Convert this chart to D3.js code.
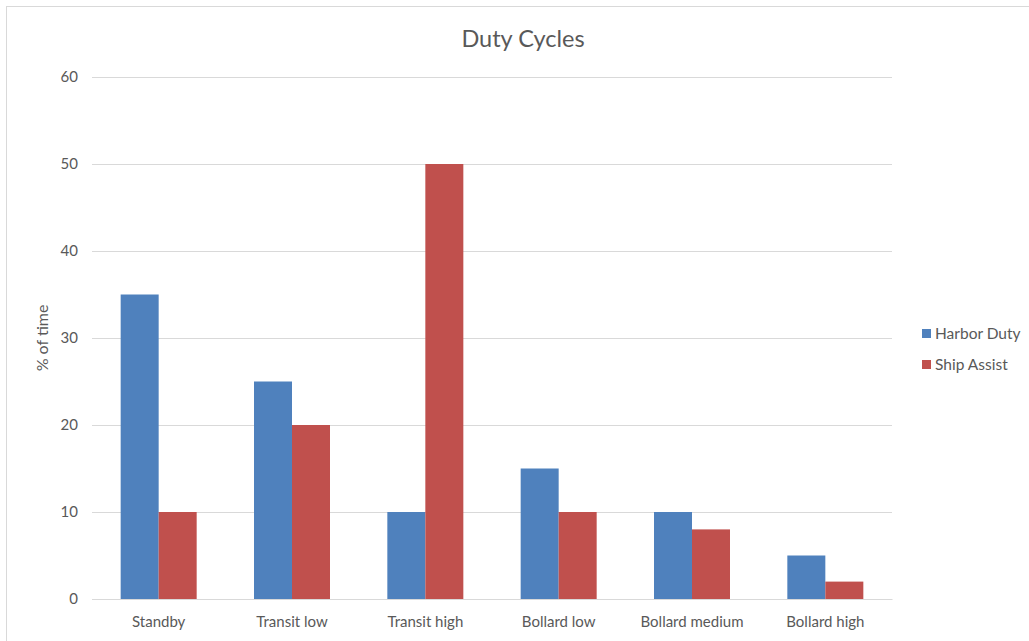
<!DOCTYPE html>
<html>
<head>
<meta charset="utf-8">
<script src="https://cdn.jsdelivr.net/npm/d3@7"></script>
<style>
  html, body { margin: 0; padding: 0; background: #fff; }
  svg { display: block; }
  text { font-family: Lato, "Open Sans", sans-serif; fill: #595959; }
</style>
</head>
<body>
<svg id="chart" width="1029" height="641"></svg>
<script>
// Duty cycle shares per operating mode
const categories = ["Standby", "Transit low", "Transit high", "Bollard low", "Bollard medium", "Bollard high"];
const harborDuty = [35, 25, 10, 15, 10, 5];
const shipAssist = [10, 20, 50, 10, 8, 2];
const seriesNames = ["Harbor Duty", "Ship Assist"];
const seriesColors = ["#4F81BD", "#C0504D"];
const yTicks = [0, 10, 20, 30, 40, 50, 60];

const series = [harborDuty, shipAssist];
const svg = d3.select("#chart");
const W = 1029, H = 641;

// chart frame
svg.append("rect")
  .attr("x", 6.5).attr("y", 6.5)
  .attr("width", W + 20).attr("height", H + 20)
  .attr("fill", "#fff").attr("stroke", "#D9D9D9").attr("stroke-width", 1);

const plot = { left: 92, right: 892, top: 77, bottom: 599 };

const x = d3.scaleBand().domain(categories).range([plot.left, plot.right]).paddingInner(0).paddingOuter(0);
const groupFrac = 0.57;
const xs = d3.scaleBand().domain(d3.range(series.length))
  .range([0, x.bandwidth() * groupFrac]);
const y = d3.scaleLinear().domain([0, 60]).range([plot.bottom, plot.top]);

// gridlines and y labels
const yAxis = d3.axisLeft(y).tickValues(yTicks).tickSize(-(plot.right - plot.left)).tickPadding(14).tickFormat(d3.format("d"));
const gy = svg.append("g").attr("transform", `translate(${plot.left},0)`).call(yAxis);
gy.select(".domain").remove();
gy.selectAll(".tick line").attr("stroke", "#D9D9D9").attr("stroke-width", 1);
gy.selectAll(".tick text").style("font-size", "15px").attr("fill", "#595959");

// bars
const offset = (x.bandwidth() - x.bandwidth() * groupFrac) / 2;
series.forEach((vals, si) => {
  svg.append("g").selectAll("rect")
    .data(vals)
    .join("rect")
    .attr("x", (d, i) => x(categories[i]) + offset + xs(si))
    .attr("y", d => y(d))
    .attr("width", xs.bandwidth())
    .attr("height", d => y(0) - y(d))
    .attr("fill", seriesColors[si]);
});

// category axis
const xAxis = d3.axisBottom(x).tickSize(0).tickPadding(17);
const gx = svg.append("g").attr("transform", `translate(0,${plot.bottom})`).call(xAxis);
gx.select(".domain").attr("stroke", "#D9D9D9");
gx.selectAll(".tick text").style("font-size", "15px").attr("fill", "#595959");

// title
svg.append("text")
  .attr("x", 523).attr("y", 47)
  .attr("text-anchor", "middle")
  .style("font-size", "23.5px")
  .text("Duty Cycles");

// y axis title
svg.append("text")
  .attr("transform", `translate(48,${(plot.top + plot.bottom) / 2}) rotate(-90)`)
  .attr("text-anchor", "middle")
  .style("font-size", "16px")
  .text("% of time");

// legend
const legend = svg.append("g");
seriesNames.forEach((name, i) => {
  const ly = 329 + i * 31;
  legend.append("rect").attr("x", 922).attr("y", ly).attr("width", 9).attr("height", 9).attr("fill", seriesColors[i]);
  legend.append("text").attr("x", 935).attr("y", ly + 10).style("font-size", "15.5px").text(name);
});
</script>
</body>
</html>
